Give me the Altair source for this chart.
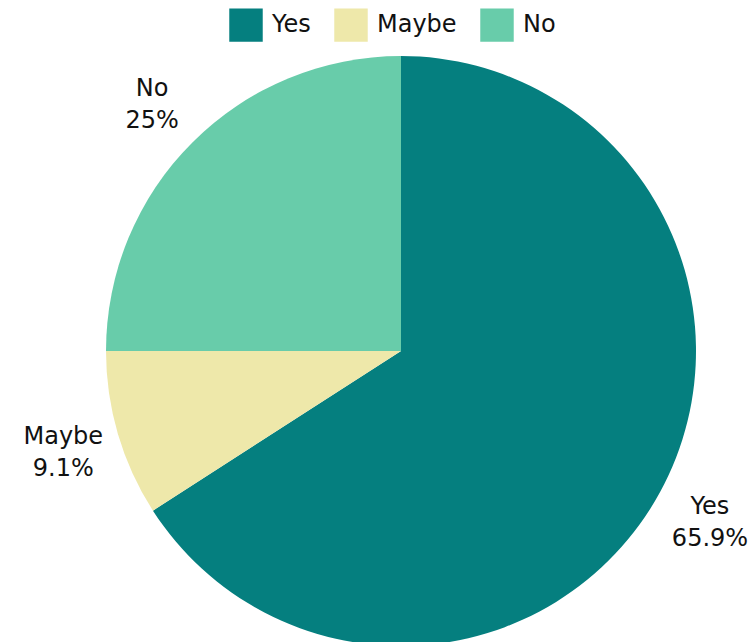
import altair as alt
import pandas as pd

categories = ["Yes", "Maybe", "No"]
values = [65.9, 9.1, 25.0]
labels = ["65.9%", "9.1%", "25%"]
colors = ["#057F7F", "#EEE8AA", "#68CCAA"]

df = pd.DataFrame({
    "answer": categories,
    "value": values,
    "pct": labels,
    "order": list(range(len(categories))),
})
df["label"] = [f"{a}\n{p}" for a, p in zip(df["answer"], df["pct"])]

FONT = "DejaVu Sans"
CX, CY, R = 401, 351, 295

base = alt.Chart(df).encode(
    theta=alt.Theta("value:Q", stack=True),
    order=alt.Order("order:Q"),
)

pie = base.mark_arc(strokeWidth=0).encode(
    x=alt.value(CX),
    y=alt.value(CY),
    radius=alt.value(R),
    color=alt.Color(
        "answer:N",
        scale=alt.Scale(domain=categories, range=colors),
        sort=categories,
        legend=alt.Legend(
            title=None,
            orient="none",
            legendX=229,
            legendY=8,
            direction="horizontal",
            symbolType="square",
            symbolSize=1120,
            symbolStrokeWidth=0,
            labelFontSize=24,
            labelFont=FONT,
            labelColor="#111111",
            labelOffset=9,
            columnPadding=23,
        ),
    ),
)

text = base.mark_text(
    fontSize=24, font=FONT, color="#111111", lineBreak="\n",
    lineHeight=32, baseline="middle", align="center", dy=-13,
).encode(
    x=alt.value(CX),
    y=alt.value(CY),
    radius=alt.value(352),
    text="label:N",
)

chart = (pie + text).properties(
    width=753, height=642, autosize=alt.AutoSizeParams(type="none"), padding=0
).configure_view(stroke=None)

chart.save("out.html", embed_options={"renderer": "svg", "actions": False})
